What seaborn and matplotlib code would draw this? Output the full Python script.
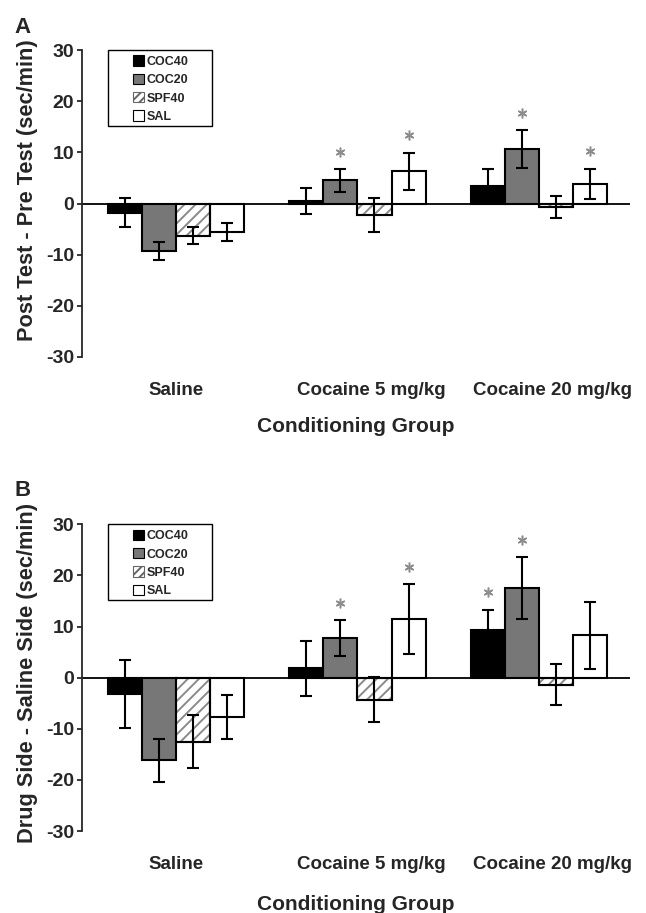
import numpy as np
import pandas as pd
import matplotlib.pyplot as plt
from matplotlib.patches import Patch, Rectangle
import seaborn as sns

groups = ['Saline', 'Cocaine 5 mg/kg', 'Cocaine 20 mg/kg']
treatments = ['COC40', 'COC20', 'SPF40', 'SAL']
fill_colors = ['black', '#777777', 'white', 'white']

# panel A: post test - pre test (sec/min), one list per treatment over groups
a_means = {
    'COC40': [-1.8, 0.5, 3.5],
    'COC20': [-9.3, 4.5, 10.6],
    'SPF40': [-6.3, -2.2, -0.7],
    'SAL': [-5.6, 6.3, 3.8],
}
a_sem = {
    'COC40': [2.8, 2.5, 3.3],
    'COC20': [1.8, 2.2, 3.7],
    'SPF40': [1.7, 3.3, 2.2],
    'SAL': [1.8, 3.6, 3.0],
}
a_stars = [('COC20', 'Cocaine 5 mg/kg'), ('SAL', 'Cocaine 5 mg/kg'),
           ('COC20', 'Cocaine 20 mg/kg'), ('SAL', 'Cocaine 20 mg/kg')]

# panel B: drug side - saline side (sec/min)
b_means = {
    'COC40': [-3.2, 1.8, 9.3],
    'COC20': [-16.2, 7.8, 17.5],
    'SPF40': [-12.5, -4.3, -1.4],
    'SAL': [-7.7, 11.5, 8.3],
}
b_sem = {
    'COC40': [6.6, 5.4, 4.0],
    'COC20': [4.2, 3.5, 6.1],
    'SPF40': [5.2, 4.4, 4.0],
    'SAL': [4.3, 6.8, 6.6],
}
b_stars = [('COC20', 'Cocaine 5 mg/kg'), ('SAL', 'Cocaine 5 mg/kg'),
           ('COC40', 'Cocaine 20 mg/kg'), ('COC20', 'Cocaine 20 mg/kg')]

y_ticks = [-30, -20, -10, 0, 10, 20, 30]
# the group names sit a little right of the bar groups in the original
label_shift = [0.0, 0.078, 0.074]

sns.set_style('ticks')
plt.rcParams['font.family'] = ['Liberation Sans', 'DejaVu Sans']
plt.rcParams['font.weight'] = 'bold'
plt.rcParams['axes.labelweight'] = 'bold'
plt.rcParams['axes.unicode_minus'] = False
plt.rcParams['hatch.linewidth'] = 1.4


def draw_panel(ax, means, sems, stars, ylabel, label_y, xlabel_pad):
    df = pd.DataFrame([
        {'group': g, 'treatment': t, 'value': means[t][i], 'sem': sems[t][i]}
        for t in treatments for i, g in enumerate(groups)
    ])
    sns.barplot(data=df, x='group', y='value', hue='treatment', order=groups,
                hue_order=treatments, palette=fill_colors, saturation=1,
                width=0.75, errorbar=None, edgecolor='black', linewidth=1.5,
                legend=False, ax=ax, zorder=2)

    centers = {}
    for t, cont in zip(treatments, ax.containers):
        for g, bar in zip(groups, cont):
            centers[(t, g)] = bar.get_x() + bar.get_width() / 2
            if t == 'SPF40':
                bar.set_hatch('///')
                bar.set_edgecolor('#8a8a8a')
                ax.add_patch(Rectangle(bar.get_xy(), bar.get_width(), bar.get_height(),
                                       fill=False, ec='black', lw=1.5, zorder=2.1))

    xs = [centers[(r.treatment, r.group)] for r in df.itertuples()]
    ax.errorbar(xs, df['value'], yerr=df['sem'], fmt='none', ecolor='black',
                elinewidth=1.5, capsize=4.5, capthick=1.5, zorder=3)

    for t, g in stars:
        i = groups.index(g)
        ax.plot(centers[(t, g)], means[t][i] + sems[t][i] + 3.4, ls='none',
                marker=(6, 2, 0), ms=7, mew=1.1, color='#8c8c8c')

    ax.axhline(0, color='black', lw=1.3, zorder=2.5)
    ax.set_xlim(-0.516, 2.5)
    ax.set_ylim(-30, 30)
    ax.set_yticks(y_ticks)
    ax.set_xticks(np.arange(len(groups)) + np.array(label_shift), labels=groups)
    sns.despine(ax=ax, bottom=True)
    ax.spines['left'].set_linewidth(1.3)
    ax.tick_params(axis='y', length=3.5, width=1.3, pad=2, labelsize=14)
    ax.tick_params(axis='x', length=0, pad=18, labelsize=13.5)
    ax.set_ylabel(ylabel, fontsize=15.7)
    ax.yaxis.set_label_coords(-0.081, label_y)
    ax.set_xlabel('Conditioning Group', fontsize=15, labelpad=xlabel_pad)

    handles = []
    for t, c in zip(treatments, fill_colors):
        if t == 'SPF40':
            handles.append(Patch(facecolor='white', edgecolor='#666666', hatch='////', lw=0.8, label=t))
        else:
            handles.append(Patch(facecolor=c, edgecolor='black', lw=0.8, label=t))
    ax.legend(handles=handles, loc='upper left', bbox_to_anchor=(0.082, 1.003),
              frameon=False, borderpad=0, handlelength=0.9,
              handleheight=0.9, handletextpad=0.2, labelspacing=0.47,
              prop={'weight': 'bold', 'size': 9})
    ax.add_patch(Rectangle((0.0474, 0.7524), 0.19, 0.2476, transform=ax.transAxes,
                           fill=False, ec='black', lw=1.0, clip_on=False, zorder=4))


fig = plt.figure(figsize=(6.46, 9.13), dpi=100)
ax_a = fig.add_axes([0.1269, 0.6090, 0.8483, 0.3362])
ax_b = fig.add_axes([0.1269, 0.0898, 0.8483, 0.3359])

draw_panel(ax_a, a_means, a_sem, a_stars, 'Post Test - Pre Test (sec/min)', 0.544, 13)
draw_panel(ax_b, b_means, b_sem, b_stars, 'Drug Side - Saline Side (sec/min)', 0.515, 16)

fig.text(0.023, 0.981, 'A', fontsize=16, fontweight='bold', va='top')
fig.text(0.023, 0.474, 'B', fontsize=16, fontweight='bold', va='top')

fig.savefig('out.png', dpi=100)
